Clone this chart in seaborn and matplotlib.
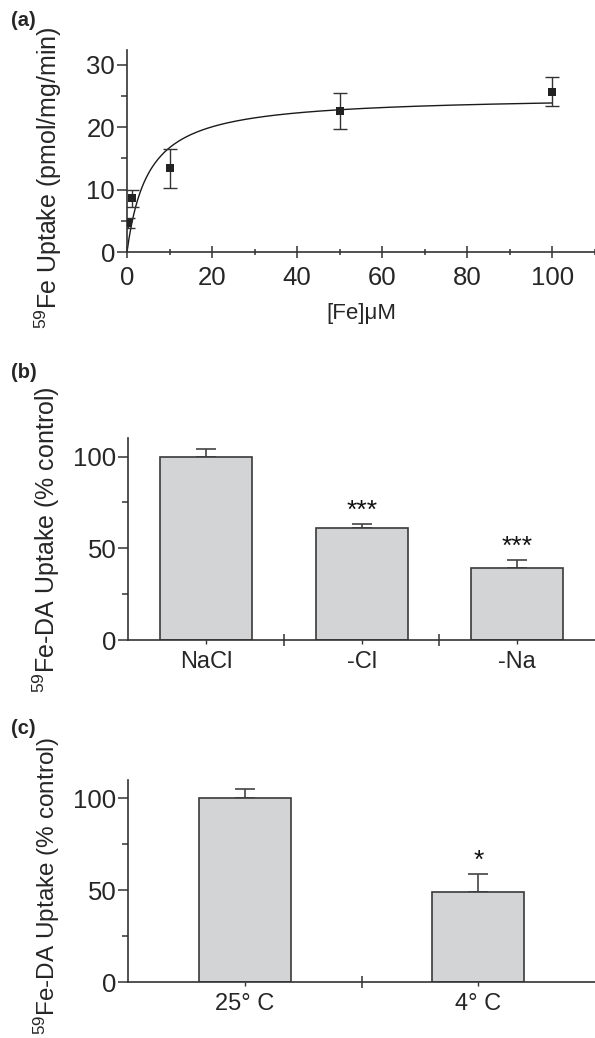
import numpy as np
import pandas as pd
import matplotlib
matplotlib.use("Agg")
import matplotlib.pyplot as plt
import seaborn as sns
from matplotlib.ticker import MultipleLocator

# ---------------- data ----------------
# Panel (a): concentration dependence
fe_conc = [0.25, 1.2, 10, 50, 100]
fe_uptake = [4.7, 8.6, 13.4, 22.6, 25.7]
fe_err = [0.8, 1.4, 3.1, 2.9, 2.3]
fit_vmax = 25.1   # Michaelis-Menten fit parameters
fit_km = 5.0

# Panel (b): ion dependence
ion_labels = ["NaCl", "-Cl", "-Na"]
ion_values = [100, 61.3, 39.1]
ion_err = [4.4, 2.0, 4.4]
ion_sig = ["", "***", "***"]

# Panel (c): temperature dependence
temp_labels = ["25\u00b0 C", "4\u00b0 C"]
temp_values = [100, 49.0]
temp_err = [5.3, 9.8]
temp_sig = ["", "*"]

# ---------------- style ----------------
sns.set_style("ticks")
plt.rcParams["font.family"] = ["Liberation Sans", "DejaVu Sans"]
plt.rcParams["mathtext.fontset"] = "custom"
plt.rcParams["mathtext.rm"] = "Liberation Sans"

SPINE = "#333333"
BAR_FILL = "#d3d4d6"
BAR_EDGE = "#3a3a3a"

W, H = 595, 1038
fig = plt.figure(figsize=(W / 100, H / 100), dpi=100)


def px_axes(left, top, right, bottom):
    return fig.add_axes([left / W, 1 - bottom / H, (right - left) / W, (bottom - top) / H])


def style_axes(ax):
    for s in ["top", "right"]:
        ax.spines[s].set_visible(False)
    for s in ["left", "bottom"]:
        ax.spines[s].set_color(SPINE)
        ax.spines[s].set_linewidth(1.2)
    ax.tick_params(axis="y", which="major", direction="out", length=7, width=1.1,
                   pad=1.5, labelsize=18.5, color=SPINE)
    ax.tick_params(axis="y", which="minor", direction="out", length=4, width=1.1, color=SPINE)


# ---------------- panel (a) ----------------
axa = px_axes(127, 50, 595, 252)
xs = np.linspace(0, 100, 400)
sns.lineplot(x=xs, y=fit_vmax * xs / (fit_km + xs), color="#1a1a1a", linewidth=1.0, ax=axa)
axa.errorbar(fe_conc, fe_uptake, yerr=fe_err, fmt="none", ecolor="#333333",
             elinewidth=1.0, capsize=5, capthick=1.0, zorder=3)
sns.scatterplot(x=fe_conc, y=fe_uptake, marker="s", s=32, color="#222222",
                edgecolor="#222222", linewidth=0, ax=axa, zorder=4)
axa.set_xlim(0, 110)
axa.set_ylim(0, 32.4)
axa.xaxis.set_major_locator(MultipleLocator(20))
axa.xaxis.set_minor_locator(MultipleLocator(10))
axa.yaxis.set_major_locator(MultipleLocator(10))
axa.yaxis.set_minor_locator(MultipleLocator(5))
style_axes(axa)
axa.tick_params(axis="x", which="major", direction="inout", length=8, width=1.1,
                pad=6, labelsize=18.5, color=SPINE)
axa.tick_params(axis="x", which="minor", direction="inout", length=5, width=1.1, color=SPINE)
axa.set_xlabel("[Fe]\u03bcM", fontsize=16)
axa.xaxis.set_label_coords(0.5, -0.25)
axa.set_ylabel(r"$\mathregular{^{59}}$Fe Uptake (pmol/mg/min)", fontsize=18)
axa.yaxis.set_label_coords(-0.135, 0.366)


# ---------------- bar panels ----------------
def bar_panel(ax, labels, values, errs, sigs, width, ylabel_size):
    df = pd.DataFrame({"cond": labels, "val": values})
    sns.barplot(data=df, x="cond", y="val", color=BAR_FILL, edgecolor=BAR_EDGE,
                linewidth=1.2, width=width, errorbar=None, saturation=1, ax=ax, zorder=2)
    n = len(labels)
    pos = np.arange(n)
    ax.errorbar(pos, values, yerr=[np.zeros(n), errs], fmt="none", ecolor="#444444",
                elinewidth=1.2, capsize=7, capthick=1.2, zorder=1)
    for i, (v, e, s) in enumerate(zip(values, errs, sigs)):
        if s:
            ax.text(i, v + e + 3.5, s, ha="center", va="baseline", fontsize=19, color="#111111")
    ax.set_xlim(-0.5, n - 0.5)
    ax.set_ylim(0, 110)
    ax.yaxis.set_major_locator(MultipleLocator(50))
    ax.yaxis.set_minor_locator(MultipleLocator(25))
    ax.set_xticks(pos)
    ax.set_xticklabels(labels)
    ax.set_xticks(np.arange(n - 1) + 0.5, minor=True)
    style_axes(ax)
    ax.tick_params(axis="x", which="major", direction="out", length=3, width=1.0,
                   pad=5, labelsize=17, color=SPINE)
    ax.tick_params(axis="x", which="minor", direction="inout", length=8, width=1.1, color=SPINE)
    ax.set_xlabel("")
    ax.set_ylabel(r"$\mathregular{^{59}}$Fe-DA Uptake (% control)", fontsize=ylabel_size)


axb = px_axes(128.3, 438.3, 595, 640)
bar_panel(axb, ion_labels, ion_values, ion_err, ion_sig, 0.59, 18)
axb.yaxis.set_label_coords(-0.142, 0.5)

axc = px_axes(128.3, 780, 595, 982)
bar_panel(axc, temp_labels, temp_values, temp_err, temp_sig, 0.394, 17.5)
axc.yaxis.set_label_coords(-0.142, 0.475)

# panel letters
for txt, ypx in [("(a)", 20), ("(b)", 373), ("(c)", 728)]:
    fig.text(11 / W, 1 - ypx / H, txt, fontsize=14.5, fontweight="bold", va="center", ha="left")

fig.savefig("out.png", dpi=100)
